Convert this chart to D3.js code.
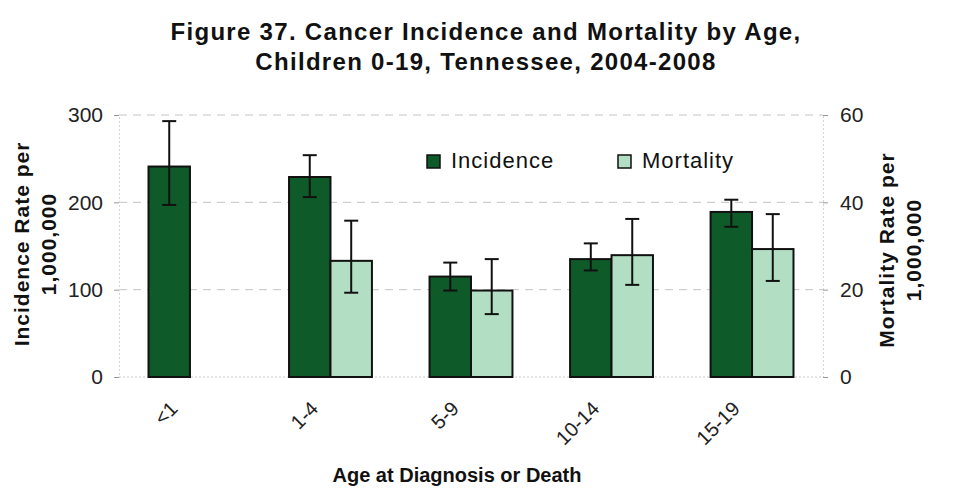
<!DOCTYPE html>
<html><head><meta charset="utf-8">
<script src="https://cdn.jsdelivr.net/npm/d3@7"></script>
<style>body{margin:0;background:#fff}svg{display:block;font-family:"Liberation Sans",Arial,sans-serif}</style>
</head><body><svg id="c" width="959" height="495"></svg>
<script>
const categories = ["<1","1-4","5-9","10-14","15-19"];
const incidence = [241, 229, 115, 135, 189];
const incidenceLow = [197, 206, 99, 122, 172];
const incidenceHigh = [293, 254, 131, 153, 203];
const mortality = [null, 26.6, 19.8, 27.9, 29.3];
const mortalityLow = [null, 19.3, 14.4, 21.1, 22.0];
const mortalityHigh = [null, 35.8, 27.0, 36.2, 37.3];
const leftTicks = [0, 100, 200, 300];
const rightTicks = [0, 20, 40, 60];
const seriesNames = ["Incidence", "Mortality"];
const titleLines = ["Figure 37. Cancer Incidence and Mortality by Age,", "Children 0-19, Tennessee, 2004-2008"];

const svg = d3.select("#c");
const L = 119, R = 823, T = 115, B = 377;
const darkGreen = "#0f5a29", lightGreen = "#b2dfc4";

const x = d3.scaleBand().domain(categories).range([L, R]).paddingInner(0.41).paddingOuter(0.21);
const xs = d3.scaleBand().domain(seriesNames).range([0, x.bandwidth()]);
const yL = d3.scaleLinear().domain([0, 300]).range([B, T]);
const yR = d3.scaleLinear().domain([0, 60]).range([B, T]);

// gridlines
svg.append("g").selectAll("line").data(leftTicks.filter(d => d > 0)).join("line")
  .attr("x1", L).attr("x2", R).attr("y1", d => yL(d)).attr("y2", d => yL(d))
  .attr("stroke", "#c4c4c4").attr("stroke-width", 1).attr("stroke-dasharray", "8,6");

// axes
const axL = svg.append("g").attr("transform", `translate(${L},0)`)
  .call(d3.axisLeft(yL).tickValues(leftTicks).tickSize(5).tickPadding(11));
const axR = svg.append("g").attr("transform", `translate(${R},0)`)
  .call(d3.axisRight(yR).tickValues(rightTicks).tickSize(5).tickPadding(12));
[axL, axR].forEach(a => {
  a.select(".domain").attr("stroke", "#d4d4d4").attr("stroke-dasharray", "2,2");
  a.selectAll(".tick line").attr("stroke", "#999");
  a.selectAll("text").attr("font-size", 21).attr("fill", "#222").attr("font-family", "Liberation Sans, Arial, sans-serif");
});
svg.append("line").attr("x1", L).attr("x2", R).attr("y1", B).attr("y2", B)
  .attr("stroke", "#c8c8c8").attr("stroke-dasharray", "2,2");

// bars
const g = svg.append("g");
categories.forEach((c, i) => {
  const x0 = x(c);
  g.append("rect").attr("x", x0 + xs("Incidence")).attr("width", xs.bandwidth())
    .attr("y", yL(incidence[i])).attr("height", yL(0) - yL(incidence[i]))
    .attr("fill", darkGreen).attr("stroke", "#111").attr("stroke-width", 2);
  if (mortality[i] != null) {
    g.append("rect").attr("x", x0 + xs("Mortality")).attr("width", xs.bandwidth())
      .attr("y", yR(mortality[i])).attr("height", yR(0) - yR(mortality[i]))
      .attr("fill", lightGreen).attr("stroke", "#111").attr("stroke-width", 2);
  }
});
// error bars
function errBar(cx, y1, y2) {
  const e = g.append("g").attr("stroke", "#111").attr("stroke-width", 2);
  e.append("line").attr("x1", cx).attr("x2", cx).attr("y1", y1).attr("y2", y2);
  e.append("line").attr("x1", cx - 7).attr("x2", cx + 7).attr("y1", y1).attr("y2", y1);
  e.append("line").attr("x1", cx - 7).attr("x2", cx + 7).attr("y1", y2).attr("y2", y2);
}
categories.forEach((c, i) => {
  errBar(x(c) + xs("Incidence") + xs.bandwidth() / 2, yL(incidenceHigh[i]), yL(incidenceLow[i]));
  if (mortality[i] != null)
    errBar(x(c) + xs("Mortality") + xs.bandwidth() / 2, yR(mortalityHigh[i]), yR(mortalityLow[i]));
});

// x labels
svg.append("g").selectAll("text").data(categories).join("text")
  .attr("transform", d => `translate(${x(d) + x.bandwidth() / 2 - 11},${B + 33}) rotate(-45)`)
  .attr("text-anchor", "end").attr("font-size", 20).attr("fill", "#222").text(d => d);

// legend
const legend = [{ n: "Incidence", c: darkGreen, x: 427 }, { n: "Mortality", c: lightGreen, x: 618 }];
legend.forEach(l => {
  svg.append("rect").attr("x", l.x).attr("y", 155).attr("width", 13).attr("height", 13)
    .attr("fill", l.c).attr("stroke", "#111").attr("stroke-width", 1.5);
  svg.append("text").attr("x", l.x + 24).attr("y", 168).attr("font-size", 22)
    .attr("letter-spacing", 1).attr("fill", "#111").text(l.n);
});

// titles
const title = svg.append("text").attr("text-anchor", "middle").attr("font-weight", "bold")
  .attr("font-size", 24).attr("letter-spacing", 1.3).attr("fill", "#111");
title.append("tspan").attr("x", 486).attr("y", 40).text(titleLines[0]);
title.append("tspan").attr("x", 486).attr("y", 70).text(titleLines[1]);

svg.append("text").attr("x", 457).attr("y", 482).attr("text-anchor", "middle")
  .attr("font-weight", "bold").attr("font-size", 20).attr("fill", "#111").text("Age at Diagnosis or Death");

function yTitle(cx, cy, lines) {
  const t = svg.append("text").attr("transform", `translate(${cx},${cy}) rotate(-90)`)
    .attr("text-anchor", "middle").attr("font-weight", "bold").attr("font-size", 21)
    .attr("letter-spacing", 1).attr("fill", "#111");
  t.append("tspan").attr("x", 0).attr("y", 0).text(lines[0]);
  t.append("tspan").attr("x", 0).attr("y", 27).text(lines[1]);
}
yTitle(29, 244, ["Incidence Rate per", "1,000,000"]);
yTitle(894, 250, ["Mortality Rate per", "1,000,000"]);
</script></body></html>
